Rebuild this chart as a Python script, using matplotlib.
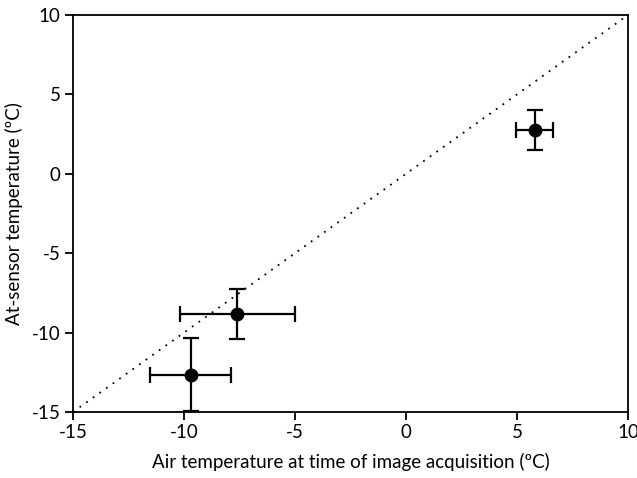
import matplotlib
matplotlib.use("Agg")
import matplotlib.pyplot as plt

plt.rcParams['font.family'] = ['Lato', 'DejaVu Sans']
plt.rcParams['axes.unicode_minus'] = False

air_temp = [5.8, -7.6, -9.7]
air_err = [0.83, 2.6, 1.82]
sensor_temp = [2.75, -8.85, -12.65]
sensor_err = [1.25, 1.57, 2.3]

fig = plt.figure(figsize=(6.37, 4.78), dpi=100)
ax = fig.add_axes([73/637, 1-412/478, (628-73)/637, (412-15)/478])

ax.plot([-15, 10], [-15, 10], linestyle=(0, (1, 3.5)), color='black', linewidth=1.3, zorder=1)
ax.errorbar(air_temp, sensor_temp, xerr=air_err, yerr=sensor_err, fmt='o', color='black',
            markersize=9, elinewidth=1.6, capsize=6, capthick=1.6, zorder=3, clip_on=False)

ax.set_xlim(-15, 10)
ax.set_ylim(-15, 10)
ax.set_xticks([-15, -10, -5, 0, 5, 10])
ax.set_yticks([-15, -10, -5, 0, 5, 10])
ax.tick_params(direction='out', length=6, width=1.3, labelsize=13.5, pad=3)
ax.tick_params(top=False, right=False)
for s in ax.spines.values():
    s.set_linewidth(1.3)
ax.set_xlabel('Air temperature at time of image acquisition (ºC)', fontsize=13.5, labelpad=8)
ax.set_ylabel('At-sensor temperature (ºC)', fontsize=13.5, labelpad=6)

fig.savefig('out.png', dpi=100)
